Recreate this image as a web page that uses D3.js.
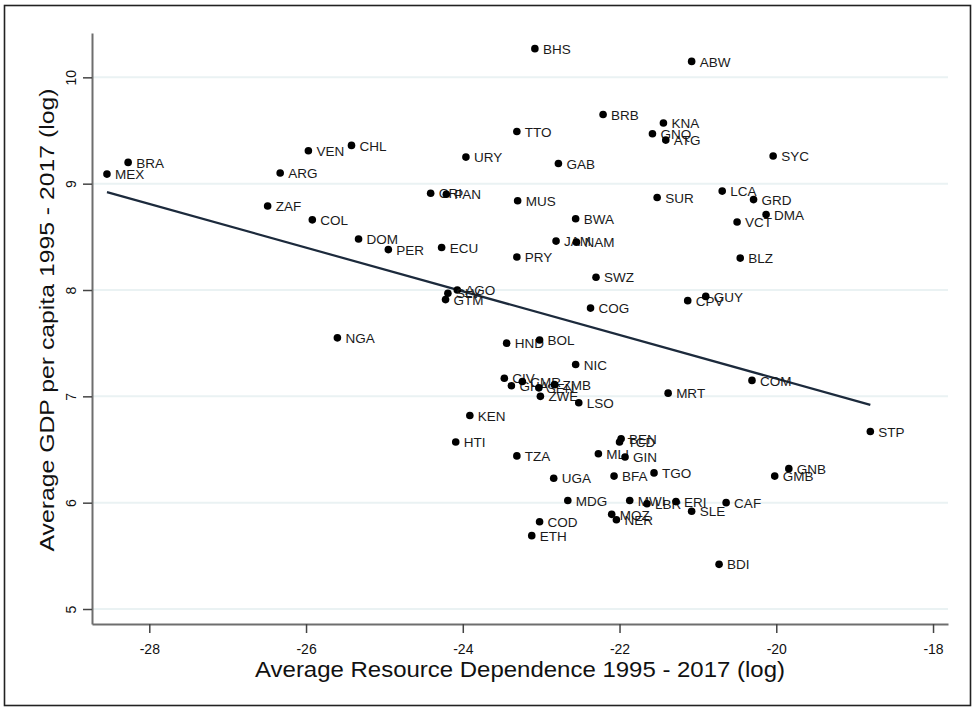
<!DOCTYPE html>
<html>
<head>
<meta charset="utf-8">
<script src="https://cdn.jsdelivr.net/npm/d3@7"></script>
<style>
  body { margin: 0; background: #fff; }
  svg { display: block; font-family: "Liberation Sans", Arial, sans-serif; }
</style>
</head>
<body>
<div id="chart"></div>
<script>
// country codes, resource dependence (log) and gdp per capita (log)
var countries = ['BHS','ABW','BRB','KNA','GNQ','ATG','TTO','URY','GAB','SYC',
  'MEX','BRA','VEN','CHL','ARG','ZAF','COL','DOM','PER','ECU',
  'CRI','PAN','MUS','SUR','LCA','GRD','DMA','VCT','BWA','JAM',
  'NAM','PRY','BLZ','SWZ','AGO','SLV','GTM','COG','CPV','GUY',
  'NGA','HND','BOL','NIC','CIV','GHA','CMR','SEN','ZMB','ZWE',
  'LSO','MRT','COM','STP','KEN','HTI','TZA','MLI','BEN','TCD',
  'GIN','UGA','BFA','TGO','GNB','GMB','MDG','MWI','LBR','ERI',
  'SLE','CAF','MOZ','NER','COD','ETH','BDI'];

var resourceDep = [-23.08,-21.08,-22.21,-21.44,-21.58,-21.41,-23.31,-23.96,-22.78,-20.04,
  -28.54,-28.27,-25.97,-25.42,-26.33,-26.49,-25.92,-25.33,-24.95,-24.27,
  -24.41,-24.21,-23.30,-21.52,-20.69,-20.29,-20.13,-20.50,-22.56,-22.81,
  -22.55,-23.31,-20.46,-22.30,-24.07,-24.19,-24.22,-22.37,-21.13,-20.90,
  -25.60,-23.44,-23.02,-22.56,-23.47,-23.38,-23.24,-23.03,-22.83,-23.01,
  -22.52,-21.38,-20.31,-18.80,-23.91,-24.09,-23.31,-22.27,-21.98,-22.00,
  -21.93,-22.84,-22.07,-21.56,-19.84,-20.02,-22.66,-21.87,-21.65,-21.28,
  -21.08,-20.64,-22.10,-22.04,-23.02,-23.12,-20.73];

var gdpPc = [10.27,10.15,9.65,9.57,9.47,9.41,9.49,9.25,9.19,9.26,
  9.09,9.20,9.31,9.36,9.10,8.79,8.66,8.48,8.38,8.40,
  8.91,8.90,8.84,8.87,8.93,8.85,8.71,8.64,8.67,8.46,
  8.45,8.31,8.30,8.12,8.00,7.97,7.91,7.83,7.90,7.94,
  7.55,7.50,7.53,7.30,7.17,7.10,7.14,7.08,7.11,7.00,
  6.94,7.03,7.15,6.67,6.82,6.57,6.44,6.46,6.60,6.57,
  6.43,6.23,6.25,6.28,6.32,6.25,6.02,6.02,5.99,6.01,
  5.92,6.00,5.89,5.84,5.82,5.69,5.42];

var xTicks = [-28, -26, -24, -22, -20, -18];
var yTicks = [5, 6, 7, 8, 9, 10];

var xTitle = 'Average Resource Dependence 1995 - 2017 (log)';
var yTitle = 'Average GDP per capita 1995 - 2017 (log)';

var width = 974, height = 709;

var svg = d3.select('#chart').append('svg')
  .attr('width', width)
  .attr('height', height);

// outer frame
svg.append('rect')
  .attr('x', 4.5).attr('y', 5.5)
  .attr('width', 966).attr('height', 700)
  .attr('fill', '#fff')
  .attr('stroke', '#222')
  .attr('stroke-width', 1.6);

var x = d3.scaleLinear().domain([-28.731, -17.809]).range([92, 948]);
var y = d3.scaleLinear().domain([4.859, 10.417]).range([624, 33]);

// gridlines
svg.append('g').selectAll('line')
  .data(yTicks)
  .join('line')
  .attr('x1', 93).attr('x2', 948)
  .attr('y1', function(d) { return y(d); })
  .attr('y2', function(d) { return y(d); })
  .attr('stroke', '#eaf2f3')
  .attr('stroke-width', 2);

var axisColor = '#6e6e6e';

var gx = svg.append('g')
  .attr('transform', 'translate(0,' + y.range()[0] + ')')
  .call(d3.axisBottom(x).tickValues(xTicks).tickSize(9).tickSizeOuter(0));
gx.select('.domain').attr('stroke', axisColor).attr('stroke-width', 2);
gx.selectAll('.tick line').attr('stroke', '#444').attr('stroke-width', 1.5);
gx.selectAll('.tick text')
  .attr('y', 25)
  .attr('dy', '0.35em')
  .attr('fill', '#111')
  .style('font-size', '14px')
  .text(function(d) { return d < 0 ? '-' + Math.abs(d) : d; });

var gy = svg.append('g')
  .attr('transform', 'translate(' + x.range()[0] + ',0)')
  .call(d3.axisLeft(y).tickValues(yTicks).tickSize(9).tickSizeOuter(0).tickFormat(d3.format('d')));
gy.select('.domain').attr('stroke', axisColor).attr('stroke-width', 2);
gy.selectAll('.tick line').attr('stroke', '#444').attr('stroke-width', 1.5);
gy.selectAll('.tick text')
  .attr('transform', 'rotate(-90)')
  .attr('x', 0)
  .attr('y', -16)
  .attr('dy', 0)
  .attr('text-anchor', 'middle')
  .attr('fill', '#111')
  .style('font-size', '14px');

// linear fit over the observed range
var fit = linearFit(resourceDep, gdpPc);
var xMin = d3.min(resourceDep), xMax = d3.max(resourceDep);
svg.append('line')
  .attr('x1', x(xMin)).attr('y1', y(fit.a + fit.b * xMin))
  .attr('x2', x(xMax)).attr('y2', y(fit.a + fit.b * xMax))
  .attr('stroke', '#1c2a3c')
  .attr('stroke-width', 2.2);

var pts = svg.append('g').selectAll('g')
  .data(countries.map(function(c, i) { return { code: c, rd: resourceDep[i], gdp: gdpPc[i] }; }))
  .join('g')
  .attr('transform', function(d) { return 'translate(' + x(d.rd) + ',' + y(d.gdp) + ')'; });

pts.append('circle')
  .attr('r', 3.8)
  .attr('fill', '#000');

pts.append('text')
  .attr('x', 8)
  .attr('dy', '0.38em')
  .attr('fill', '#1a1a1a')
  .style('font-size', '13.5px')
  .text(function(d) { return d.code; });

// axis titles
svg.append('text')
  .attr('x', 520).attr('y', 677)
  .attr('text-anchor', 'middle')
  .attr('textLength', 530)
  .attr('lengthAdjust', 'spacingAndGlyphs')
  .attr('fill', '#111')
  .style('font-size', '22px')
  .text(xTitle);

svg.append('text')
  .attr('transform', 'translate(54,320) rotate(-90)')
  .attr('text-anchor', 'middle')
  .attr('textLength', 463)
  .attr('lengthAdjust', 'spacingAndGlyphs')
  .attr('fill', '#111')
  .style('font-size', '20px')
  .text(yTitle);

function linearFit(xs, ys) {
  var mx = d3.mean(xs), my = d3.mean(ys);
  var sxy = 0, sxx = 0;
  for (var i = 0; i < xs.length; i++) {
    sxy += (xs[i] - mx) * (ys[i] - my);
    sxx += (xs[i] - mx) * (xs[i] - mx);
  }
  var b = sxy / sxx;
  return { a: my - b * mx, b: b };
}
</script>
</body>
</html>
